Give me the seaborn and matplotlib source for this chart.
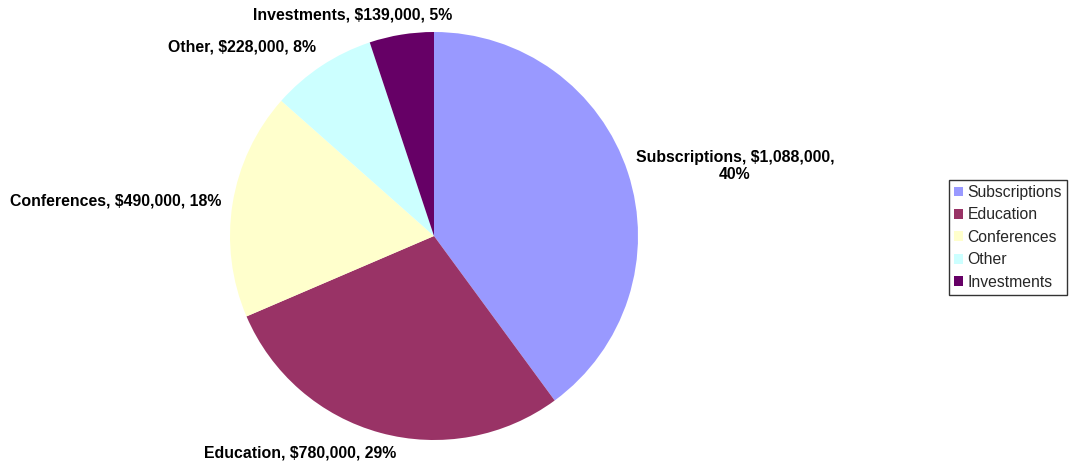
import matplotlib
matplotlib.use("Agg")
import matplotlib.pyplot as plt
import seaborn as sns
import numpy as np

categories = ["Subscriptions", "Education", "Conferences", "Other", "Investments"]
values = [1088000, 780000, 490000, 228000, 139000]
percent_labels = ["40%", "29%", "18%", "8%", "5%"]
colors = ["#9999FF", "#993366", "#FFFFCC", "#CCFFFF", "#660066"]

sns.set_theme(style="white")
plt.rcParams['font.family'] = ['Liberation Sans', 'DejaVu Sans']

fig = plt.figure(figsize=(10.74, 4.68), dpi=100)
cx, cy, r = 434, 468 - 236, 204
ax = fig.add_axes([(cx - r) / 1074, (cy - r) / 468, 2 * r / 1074, 2 * r / 468])

wedges, _ = ax.pie(values, colors=sns.color_palette(colors), startangle=90, counterclock=False,
                   radius=1.0, wedgeprops=dict(linewidth=0))
ax.set_xlim(-1, 1)
ax.set_ylim(-1, 1)
ax.set_aspect("equal")
ax.axis("off")

# label placement (layout only)
label_pos = [(1.475, 0.343), (-0.657, -1.064), (-1.559, 0.172), (-0.941, 0.926), (-0.399, 1.083)]
for cat, v, p, (lx, ly) in zip(categories, values, percent_labels, label_pos):
    if cat == "Subscriptions":
        txt = f"{cat}, ${v:,},\n{p}"
    else:
        txt = f"{cat}, ${v:,}, {p}"
    ax.text(lx, ly, txt, ha="center", va="center", fontsize=11.4, fontweight="bold",
            color="black", linespacing=1.1, clip_on=False)

leg = fig.legend(wedges, categories, loc="upper left",
                 bbox_to_anchor=(949 / 1074, 1 - 180 / 468), fontsize=11.3,
                 frameon=True, fancybox=False, handlelength=0.6, handleheight=0.6,
                 handletextpad=0.25, labelspacing=0.47, borderpad=0.32, borderaxespad=0)
leg.get_frame().set_edgecolor("black")
leg.get_frame().set_linewidth(1.0)

fig.savefig("out.png", dpi=100)
